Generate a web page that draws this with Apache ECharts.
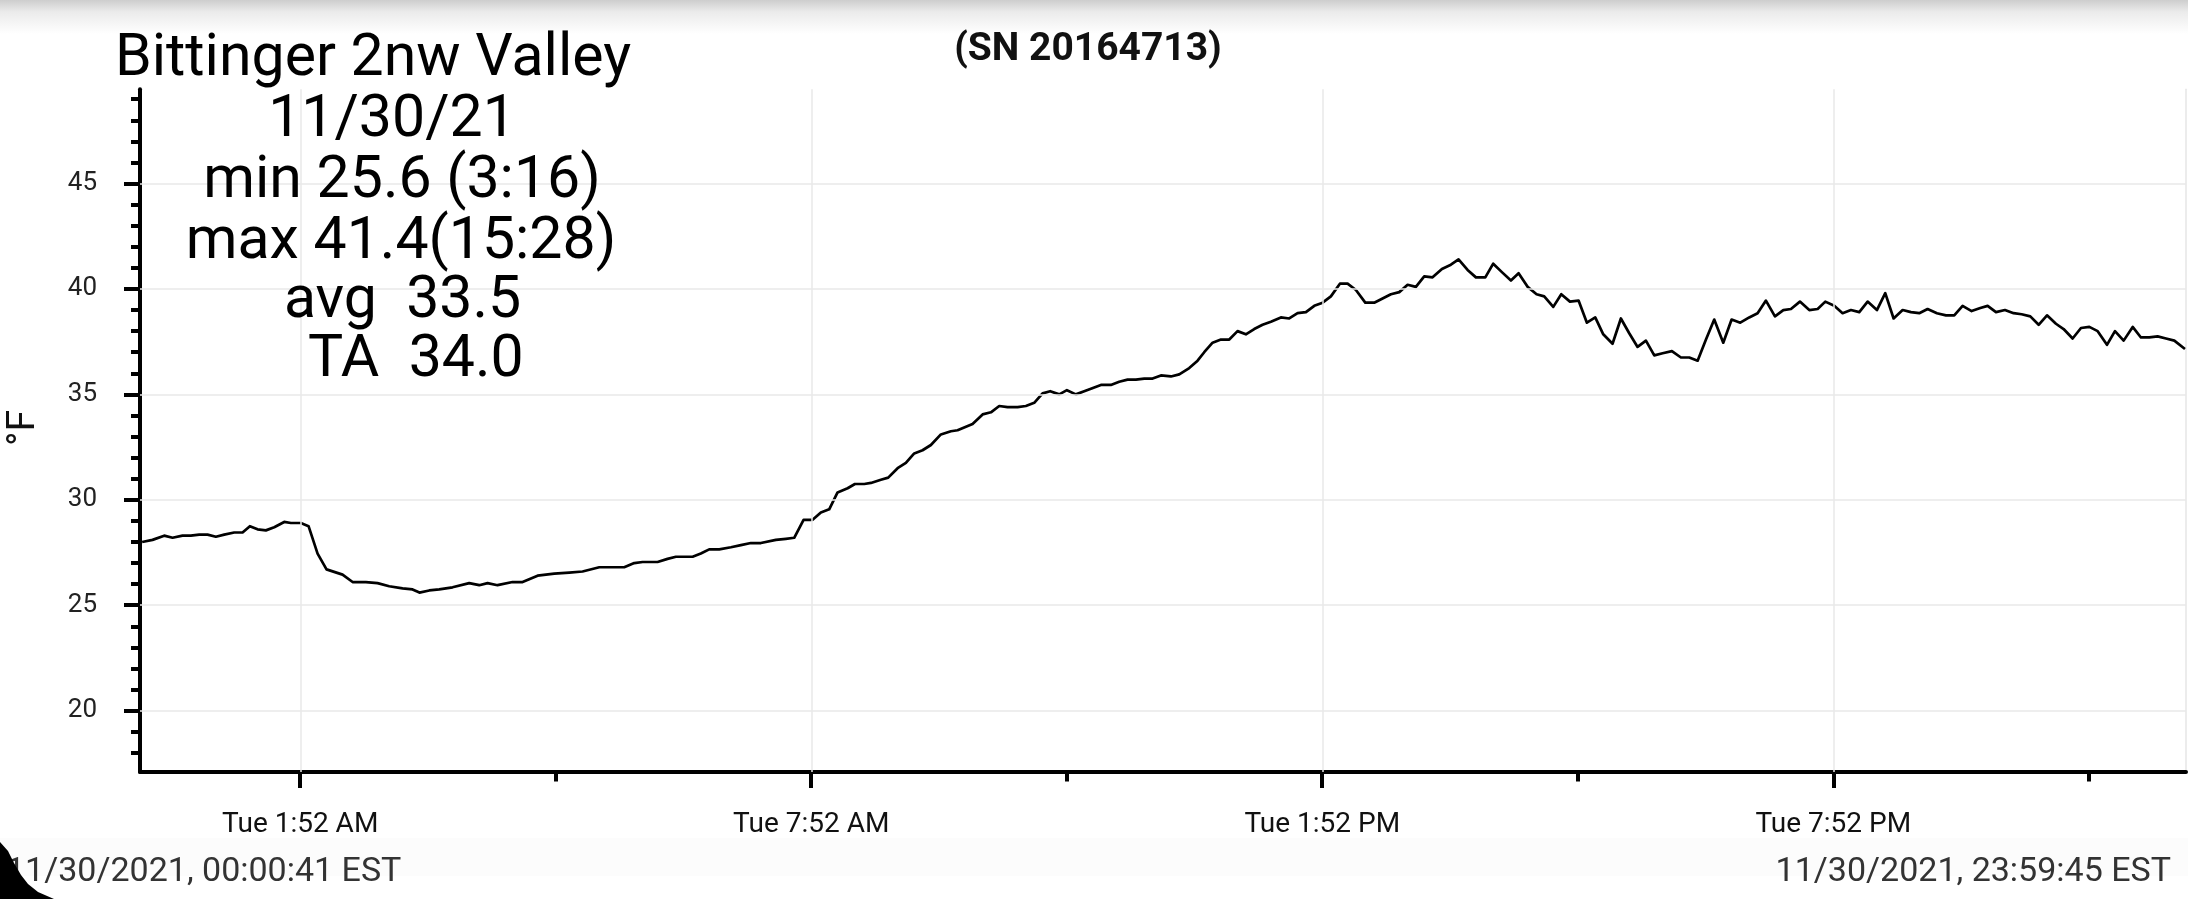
<!DOCTYPE html>
<html>
<head>
<meta charset="utf-8">
<script src="https://cdn.jsdelivr.net/npm/echarts@6/dist/echarts.min.js"></script>
<style>
html,body{margin:0;padding:0;background:#fff;}
#chart{width:2188px;height:899px;}
</style>
</head>
<body>
<div id="chart"></div>
<script>
// ---- data (hours since midnight, °F) ----
const times = [0.011,0.133,0.270,0.368,0.485,0.583,0.681,0.779,0.877,0.975,1.092,1.190,1.276,1.366,1.464,1.562,1.679,1.758,1.875,1.965,2.071,2.176,2.364,2.482,2.638,2.775,2.912,3.069,3.186,3.267,3.382,3.499,3.656,3.851,3.969,4.067,4.184,4.360,4.478,4.654,4.850,5.026,5.182,5.378,5.495,5.671,5.789,5.887,6.063,
6.180,6.278,6.474,6.571,6.669,6.787,6.924,7.041,7.158,7.276,7.452,7.569,7.667,7.777,7.883,7.980,8.078,8.176,8.294,8.380,8.489,8.568,8.685,8.771,8.881,8.978,9.076,9.174,9.272,9.389,9.507,9.585,9.761,9.879,9.977,10.074,10.172,10.290,10.387,10.485,10.583,10.673,10.779,10.869,10.974,11.072,11.268,11.385,11.483,11.581,11.679,11.777,11.875,11.973,12.090,
12.188,12.305,12.403,12.481,12.579,12.677,12.775,12.872,12.970,13.068,13.166,13.264,13.381,13.479,13.577,13.675,13.773,13.871,13.968,14.074,14.164,14.262,14.372,14.477,14.575,14.673,14.771,14.869,14.966,15.064,15.162,15.272,15.377,15.467,15.573,15.671,15.781,15.874,15.976,16.082,16.172,16.278,16.383,16.473,16.579,16.673,16.775,16.876,16.974,17.072,17.166,17.275,17.373,17.471,17.569,17.667,17.765,17.863,17.972,18.078,
18.176,18.274,18.372,18.469,18.575,18.673,18.775,18.880,18.978,19.076,19.182,19.280,19.370,19.475,19.585,19.683,19.773,19.878,19.976,20.074,20.172,20.270,20.379,20.477,20.575,20.681,20.779,20.876,20.974,21.084,21.190,21.287,21.385,21.491,21.593,21.679,21.777,21.882,21.984,22.078,22.180,22.278,22.376,22.481,22.571,22.677,22.775,22.873,22.971,23.080,23.174,23.276,23.382,23.479,23.577,23.675,23.773,23.871,23.996];
const temps = [28.0,28.1,28.3,28.2,28.3,28.3,28.35,28.35,28.25,28.35,28.45,28.45,28.75,28.6,28.55,28.7,28.95,28.9,28.9,28.75,27.45,26.7,26.45,26.1,26.1,26.05,25.9,25.8,25.75,25.6,25.7,25.75,25.85,26.05,25.95,26.05,25.95,26.1,26.1,26.4,26.5,26.55,26.6,26.8,26.8,26.8,27.0,27.05,27.05,
27.2,27.3,27.3,27.45,27.65,27.65,27.75,27.85,27.95,27.95,28.1,28.15,28.2,29.05,29.05,29.4,29.55,30.35,30.55,30.75,30.75,30.8,30.95,31.05,31.5,31.75,32.2,32.35,32.6,33.1,33.25,33.3,33.6,34.05,34.15,34.45,34.4,34.4,34.45,34.6,35.05,35.15,35.0,35.2,35.0,35.15,35.45,35.45,35.6,35.7,35.7,35.75,35.75,35.9,35.85,
35.95,36.25,36.6,37.0,37.45,37.6,37.6,38.0,37.85,38.1,38.3,38.45,38.65,38.6,38.85,38.9,39.2,39.35,39.65,40.25,40.25,39.95,39.35,39.35,39.55,39.75,39.85,40.2,40.1,40.6,40.55,40.95,41.15,41.4,40.9,40.55,40.55,41.2,40.8,40.4,40.75,40.1,39.75,39.65,39.15,39.75,39.4,39.45,38.4,38.65,37.85,37.4,38.6,37.9,37.25,37.55,36.85,36.95,37.05,36.75,
36.75,36.6,37.6,38.55,37.45,38.55,38.4,38.65,38.85,39.45,38.7,39.0,39.05,39.4,39.0,39.05,39.4,39.2,38.85,39.0,38.9,39.4,39.0,39.8,38.6,39.0,38.9,38.85,39.05,38.85,38.75,38.75,39.2,38.95,39.1,39.2,38.9,39.0,38.85,38.8,38.7,38.3,38.75,38.35,38.1,37.65,38.15,38.2,38.0,37.35,38.0,37.55,38.2,37.7,37.7,37.75,37.65,37.55,37.15];

const xMajorTicks = [1 + 52/60, 7 + 52/60, 13 + 52/60, 19 + 52/60];
const xMinorTicks = [4 + 52/60, 10 + 52/60, 16 + 52/60, 22 + 52/60];
const xTickLabels = ['Tue 1:52 AM', 'Tue 7:52 AM', 'Tue 1:52 PM', 'Tue 7:52 PM'];
const yMajorTicks = [20, 25, 30, 35, 40, 45];
const yMinorTicks = [18,19,21,22,23,24,26,27,28,29,31,32,33,34,36,37,38,39,41,42,43,44,46,47,48,49];
const xRange = [-0.014, 24.008];
const yRange = [17.09, 49.47];

const stationName = 'Bittinger 2nw Valley';
const statLines = ['11/30/21', 'min 25.6 (3:16)', 'max 41.4(15:28)', 'avg  33.5', 'TA  34.0'];
const serialText = '(SN 20164713)';
const startText = '11/30/2021, 00:00:41 EST';
const endText = '11/30/2021, 23:59:45 EST';
const yName = '°F';

// ---- chart ----
const points = times.map((t, i) => [t, temps[i]]);
const FONT = 'Roboto';

const titleLayout = [[373, 60.5], [392, 121.5], [402, 182.5], [401, 243], [402.6, 302.5], [415.8, 361.5]];
const titleTexts = [stationName].concat(statLines);

const graphics = [
  { type: 'rect', shape: { x: 0, y: 0, width: 2188, height: 34 }, silent: true, z: -10,
    style: { fill: { type: 'linear', x: 0, y: 0, x2: 0, y2: 1,
      colorStops: [{ offset: 0, color: '#cdcdcd' }, { offset: 0.35, color: '#ebebeb' }, { offset: 1, color: '#ffffff' }] } } },
  { type: 'rect', shape: { x: 0, y: 838, width: 2188, height: 38 }, silent: true, z: -10,
    style: { fill: '#fcfcfc' } },
  { type: 'polygon', silent: true, z: 100,
    shape: { points: [[0,842],[8,851],[14,863],[21,875],[28,884],[38,892],[54,899],[0,899]] },
    style: { fill: '#000' } },
  { type: 'text', x: 24, y: 428, rotation: Math.PI / 2, silent: true, z: 50,
    style: { text: yName, fill: '#111', fontSize: 39, fontFamily: FONT,
      align: 'center', verticalAlign: 'middle', textAlign: 'center', textVerticalAlign: 'middle' } }
];
titleTexts.forEach((txt, i) => {
  graphics.push({ type: 'text', x: titleLayout[i][0], y: titleLayout[i][1], silent: true, z: 50,
    style: { text: txt, fill: '#000', fontSize: 59, fontFamily: FONT,
      align: 'center', verticalAlign: 'middle', textAlign: 'center', textVerticalAlign: 'middle' } });
});
graphics.push({ type: 'text', x: 1088, y: 50, silent: true, z: 50,
  style: { text: serialText, fill: '#111', fontSize: 39, fontWeight: 'bold', fontFamily: FONT,
    align: 'center', verticalAlign: 'middle', textAlign: 'center', textVerticalAlign: 'middle' } });
graphics.push({ type: 'text', x: 6, y: 872, silent: true, z: 50,
  style: { text: startText, fill: '#333', fontSize: 34, fontFamily: FONT,
    align: 'left', verticalAlign: 'middle', textAlign: 'left', textVerticalAlign: 'middle' } });
graphics.push({ type: 'text', x: 2171, y: 872, silent: true, z: 50,
  style: { text: endText, fill: '#333', fontSize: 34, fontFamily: FONT,
    align: 'right', verticalAlign: 'middle', textAlign: 'right', textVerticalAlign: 'middle' } });

const gridLineStyle = { color: '#e8e8e8', width: 1.5, type: 'solid' };
const markData = yMajorTicks.map(v => ({ yAxis: v })).concat(xMajorTicks.map(v => ({ xAxis: v })));

function xLabel(v) {
  for (let i = 0; i < xMajorTicks.length; i++) {
    if (Math.abs(xMajorTicks[i] - v) < 0.01) return xTickLabels[i];
  }
  return '';
}

const option = {
  animation: false,
  backgroundColor: '#ffffff',
  grid: { left: 140, right: 2, top: 89.3, bottom: 127, containLabel: false, outerBoundsMode: 'none' },
  xAxis: [
    { type: 'value', min: xRange[0], max: xRange[1], position: 'bottom',
      axisLine: { show: true, onZero: false, lineStyle: { color: '#000', width: 4 } },
      axisTick: { show: true, customValues: xMajorTicks, length: 16, lineStyle: { color: '#000', width: 4 } },
      axisLabel: { show: true, customValues: xMajorTicks, formatter: xLabel, fontSize: 28, fontFamily: FONT, color: '#111', margin: 39 },
      splitLine: { show: false } },
    { type: 'value', min: xRange[0], max: xRange[1], position: 'bottom',
      axisLine: { show: false, onZero: false },
      axisTick: { show: true, customValues: xMinorTicks, length: 9.5, lineStyle: { color: '#000', width: 4 } },
      axisLabel: { show: false },
      splitLine: { show: false } }
  ],
  yAxis: [
    { type: 'value', min: yRange[0], max: yRange[1], position: 'left',
      axisLine: { show: true, onZero: false, lineStyle: { color: '#000', width: 4 } },
      axisTick: { show: true, customValues: yMajorTicks, length: 16, lineStyle: { color: '#000', width: 4 } },
      axisLabel: { show: true, customValues: yMajorTicks, fontSize: 26, fontFamily: FONT, color: '#222', margin: 43 },
      splitLine: { show: false } },
    { type: 'value', min: yRange[0], max: yRange[1], position: 'left',
      axisLine: { show: false, onZero: false },
      axisTick: { show: true, customValues: yMinorTicks, length: 9, lineStyle: { color: '#000', width: 4 } },
      axisLabel: { show: false },
      splitLine: { show: false } },
    { type: 'value', min: yRange[0], max: yRange[1], position: 'right',
      axisLine: { show: true, onZero: false, lineStyle: { color: '#e6e6e6', width: 1.5 } },
      axisTick: { show: false }, axisLabel: { show: false }, splitLine: { show: false } }
  ],
  graphic: graphics,
  series: [
    { type: 'line', xAxisIndex: 0, yAxisIndex: 0, data: points, z: 1, silent: true,
      showSymbol: false, lineStyle: { opacity: 0, width: 0 },
      markLine: { silent: true, symbol: ['none', 'none'], label: { show: false },
        lineStyle: gridLineStyle, emphasis: { disabled: true }, data: markData } },
    { type: 'line', xAxisIndex: 0, yAxisIndex: 0, data: points, z: 3,
      showSymbol: false, symbol: 'none', silent: true,
      lineStyle: { color: '#000', width: 2.7, join: 'round' } }
  ]
};

const chart = echarts.init(document.getElementById('chart'), null, { renderer: 'canvas' });
chart.setOption(option);
</script>
</body>
</html>
